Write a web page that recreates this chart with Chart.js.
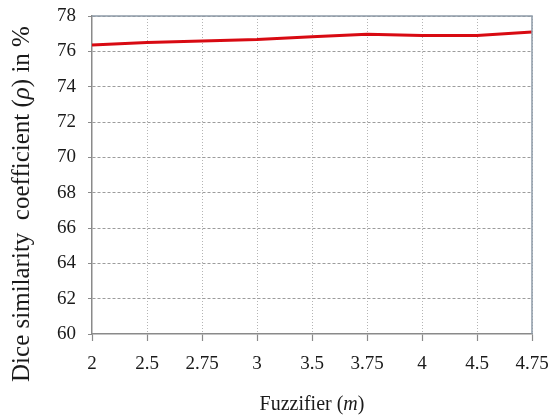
<!DOCTYPE html>
<html>
<head>
<meta charset="utf-8">
<script src="https://cdn.jsdelivr.net/npm/chart.js@4.4.0/dist/chart.umd.min.js"></script>
<style>
  html, body { margin: 0; padding: 0; background: #fff; }
  #wrap { width: 549px; height: 419px; position: relative; }
</style>
</head>
<body>
<div id="wrap"><canvas id="c" width="549" height="419"></canvas></div>
<script>
const categories = ['2', '2.5', '2.75', '3', '3.5', '3.75', '4', '4.5', '4.75'];
const diceValues = [76.36, 76.5, 76.59, 76.67, 76.82, 76.97, 76.9, 76.9, 77.1];
const yTitleParts = [['Dice similarity  coefficient (', false], ['ρ', true], [') in %', false]];
const xTitleParts = [['Fuzzifier (', false], ['m', true], [')', false]];

const FONT = "'Liberation Serif', 'Times New Roman', serif";

function drawParts(ctx, parts, size) {
  let total = 0;
  const widths = parts.map(([t, it]) => {
    ctx.font = (it ? 'italic ' : '') + size + 'px ' + FONT;
    const w = ctx.measureText(t).width;
    total += w;
    return w;
  });
  let x = -total / 2;
  parts.forEach(([t, it], i) => {
    ctx.font = (it ? 'italic ' : '') + size + 'px ' + FONT;
    ctx.fillText(t, x, 0);
    x += widths[i];
  });
}

const framePlugin = {
  id: 'frame',
  afterDraw(chart) {
    const ctx = chart.ctx;
    const a = chart.chartArea;
    ctx.save();
    ctx.strokeStyle = '#8d9ba8';
    ctx.lineWidth = 1.5;
    ctx.beginPath();
    ctx.moveTo(a.left, a.top);
    ctx.lineTo(a.right, a.top);
    ctx.lineTo(a.right, a.bottom);
    ctx.stroke();
    ctx.fillStyle = '#1a1a1a';
    ctx.textBaseline = 'middle';
    ctx.textAlign = 'left';
    ctx.translate((a.left + a.right) / 2, 405);
    drawParts(ctx, xTitleParts, 20);
    ctx.restore();
    ctx.save();
    ctx.fillStyle = '#1a1a1a';
    ctx.textBaseline = 'middle';
    ctx.textAlign = 'left';
    ctx.translate(22, 204);
    ctx.rotate(-Math.PI / 2);
    drawParts(ctx, yTitleParts, 25);
    ctx.restore();
  }
};

new Chart(document.getElementById('c'), {
  type: 'line',
  data: {
    labels: categories,
    datasets: [{
      data: diceValues,
      borderColor: '#d80a12',
      borderWidth: 3,
      pointRadius: 0,
      tension: 0,
      fill: false
    }]
  },
  options: {
    responsive: false,
    animation: false,
    layout: { padding: { top: 16, right: 17, left: 0, bottom: 0 } },
    plugins: { legend: { display: false }, tooltip: { enabled: false } },
    scales: {
      x: {
        type: 'category',
        offset: false,
        afterFit(s) { s.height = 85; s.paddingLeft = 0; s.paddingRight = 0; },
        grid: {
          color: (c) => c.index === 0 ? 'rgba(0,0,0,0)' : '#b4b4b4',
          lineWidth: 1,
          tickLength: 7,
          tickColor: '#8a8a8a',
          tickWidth: 1.2
        },
        border: { display: true, color: '#8a8a8a', width: 1.5, dash: [1, 2] },
        ticks: {
          font: { family: FONT, size: 19 },
          color: '#1a1a1a',
          padding: 12,
          maxRotation: 0,
          autoSkip: false
        }
      },
      y: {
        min: 60,
        max: 78,
        afterFit(s) { s.width = 92; s.paddingTop = 0; s.paddingBottom = 0; },
        grid: {
          color: (c) => c.tick && c.tick.value === 60 ? 'rgba(0,0,0,0)' : '#9c9c9c',
          lineWidth: 1,
          tickLength: 4,
          tickColor: '#8a8a8a'
        },
        border: { display: true, color: '#8a8a8a', width: 1.5, dash: [3, 2] },
        ticks: {
          stepSize: 2,
          font: { family: FONT, size: 19 },
          color: '#1a1a1a',
          padding: 12
        }
      }
    }
  },
  plugins: [framePlugin]
});
</script>
</body>
</html>
